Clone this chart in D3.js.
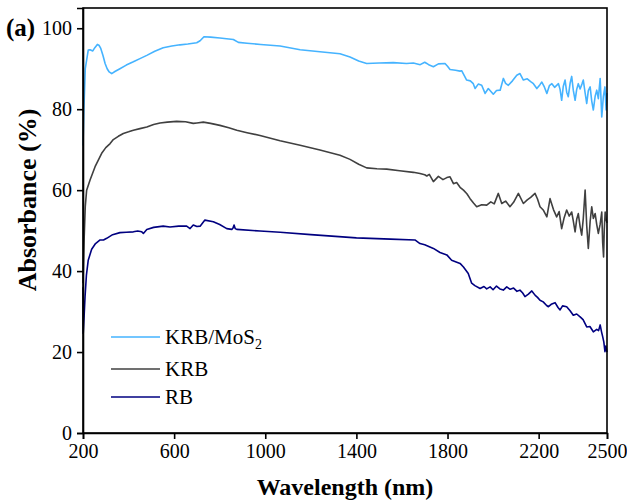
<!DOCTYPE html>
<html><head><meta charset="utf-8">
<script src="https://cdn.jsdelivr.net/npm/d3@7"></script>
<style>body{margin:0;background:#fff}svg{display:block}svg text{font-family:"Liberation Serif","Times New Roman",serif}</style>
</head><body><svg id="c" width="627" height="500"></svg>
<script>
const seriesNames = ["KRB/MoS2", "KRB", "RB"];
const seriesColors = ["#45b3ff", "#404040", "#000080"];
const xTicks = [200, 600, 1000, 1400, 1800, 2200, 2500];
const yTicks = [0, 20, 40, 60, 80, 100];

const wlKrbMos2 = [200,204,210,223,231,243,252,263,270,278,288,297,306,315,326,340,362,390,421,450,480,515,552,590,626,660,699,714,731,760,801,830,860,882,920,980,1065,1153,1240,1328,1372,1410,1445,1500,1562,1620,1650,1680,1700,1709,1720,1738,1760,1789,1800,1811,1835,1855,1862,1884,1900,1913,1921,1935,1950,1965,1979,2001,2015,2031,2045,2055,2067,2085,2104,2118,2133,2150,2165,2177,2192,2205,2214,2225,2236,2247,2258,2270,2287,2294,2301,2308,2316,2323,2330,2338,2345,2352,2360,2367,2374,2382,2390,2396,2404,2411,2418,2426,2433,2440,2448,2455,2462,2470,2477,2484,2491,2496,2500];
const valKrbMos2 = [71,80,90,94.6,94.7,94.4,95.2,96.0,95.8,95.0,93.2,91.3,90.0,89.2,88.8,89.3,90.0,90.9,91.7,92.5,93.3,94.3,95.2,95.6,95.9,96.1,96.4,96.9,97.9,97.8,97.6,97.4,97.2,96.5,96.3,96.0,95.6,94.7,94.2,93.7,92.9,91.9,91.3,91.4,91.5,91.3,91.4,91.0,91.6,91.3,90.9,90.5,91.2,91.3,90.6,89.8,89.6,89.4,89.5,87.2,87.0,86.3,85.1,86.2,85.9,83.9,85.1,83.7,84.6,84.7,87.6,86.4,85.9,87.0,88.4,88.8,87.2,87.5,86.8,86.3,85.1,86.0,86.7,85.5,83.9,85.8,86.3,85.4,86.3,84.9,82.2,85.6,87.2,84.2,83.1,86.4,88.1,84.7,82.2,84.9,86.3,85.0,86.2,87.2,84.0,81.4,84.6,85.5,82.0,79.8,83.2,84.7,82.6,87.6,78.1,83.1,85.5,79.8,84];

const wlKrb = [200,205,210,216,231,253,282,300,319,333,355,377,400,421,450,480,510,538,570,611,650,684,700,728,760,801,840,875,920,977,1065,1153,1240,1328,1372,1410,1445,1490,1533,1590,1650,1679,1700,1709,1720,1738,1760,1780,1797,1811,1826,1840,1855,1870,1885,1899,1914,1928,1950,1972,1990,2005,2023,2038,2055,2074,2090,2111,2133,2150,2165,2184,2195,2206,2220,2236,2250,2265,2279,2290,2301,2312,2323,2334,2345,2352,2360,2367,2374,2382,2389,2396,2404,2411,2418,2426,2433,2440,2448,2455,2462,2470,2477,2481,2485,2488,2492,2496,2500];
const valKrb = [37,48,56,60.0,62.5,65.8,69.1,70.5,71.5,72.5,73.3,74.0,74.4,74.8,75.2,75.6,76.2,76.6,76.8,77.0,76.9,76.5,76.6,76.8,76.5,76.0,75.4,74.8,74.2,73.5,72.2,71.1,69.9,68.6,67.6,66.4,65.5,65.3,65.2,64.8,64.4,64.1,63.8,63.5,63.9,62.1,63.4,62.6,63.1,63.3,61.6,61.9,60.7,60.0,59.1,57.9,56.8,55.9,56.4,56.3,57.1,56.6,59.2,56.7,57.3,55.9,57.0,59.2,56.7,57.6,58.2,59.2,57.8,55.9,55.1,53.4,57.9,55.2,53.4,54.7,50.5,53.2,55.1,53.6,54.6,52.4,49.7,52.8,54.2,51.0,48.9,53.1,60.0,51.2,45.6,52.3,55.9,53.0,54.2,51.5,49.3,51.6,54.6,47.1,43.5,50.2,54.6,52.8,51.9,55];

const wlRb = [200,201,205,209,215,223,238,255,275,290,304,330,362,390,421,440,458,465,480,510,552,582,620,655,670,684,700,714,735,772,800,831,853,858,863,868,875,977,1065,1200,1400,1550,1657,1679,1700,1738,1767,1797,1818,1855,1870,1891,1906,1920,1943,1960,1972,1987,2000,2015,2030,2045,2060,2075,2090,2105,2118,2130,2140,2155,2170,2185,2195,2206,2220,2235,2243,2255,2272,2285,2294,2305,2323,2338,2352,2367,2382,2395,2411,2425,2440,2455,2463,2470,2476,2481,2486,2491,2495,2500];
const valRb = [36,24.6,29,33.7,39,42.7,45.4,46.8,47.7,47.7,48.1,49.0,49.5,49.6,49.7,49.9,49.7,49.3,50.3,50.8,51.1,50.9,51.1,51.1,50.5,51.4,51.0,51.1,52.6,52.2,51.5,50.5,50.3,50.6,51.4,50.5,50.3,49.9,49.6,49.0,48.2,47.9,47.7,46.8,46.5,45.6,44.6,44.0,42.7,41.9,41.0,39.4,37.0,36.4,35.7,36.2,35.6,36.1,35.4,36.3,35.6,35.3,36.1,35.5,35.8,35.0,35.3,34.6,33.7,34.3,35.1,34.0,33.5,32.8,32.4,31.5,31.2,31.8,32.2,31.0,30.4,31.4,31.2,30.2,29.1,29.4,28.7,28.0,26.2,26.3,25.0,25.6,25.3,26.7,25.0,23.8,22.5,20.1,21.5,20];

const margin = {left: 83, right: 607, top: 8, bottom: 433};
const svg = d3.select("#c");
const x = d3.scaleLinear().domain([200, 2500]).range([margin.left, margin.right]);
const y = d3.scaleLinear().domain([0, 105]).range([margin.bottom, margin.top]);

const allSeries = [
  {wl: wlRb, v: valRb, c: seriesColors[2]},
  {wl: wlKrb, v: valKrb, c: seriesColors[1]},
  {wl: wlKrbMos2, v: valKrbMos2, c: seriesColors[0]}
];
const line = d3.line().x(d => x(d[0])).y(d => y(d[1]));
allSeries.forEach(s => {
  svg.append("path").datum(s.wl.map((w, i) => [w, s.v[i]]))
    .attr("d", line).attr("fill", "none").attr("stroke", s.c)
    .attr("stroke-width", 1.6).attr("stroke-linejoin", "round");
});

// frame
svg.append("rect").attr("x", margin.left).attr("y", margin.top)
  .attr("width", margin.right - margin.left).attr("height", margin.bottom - margin.top)
  .attr("fill", "none").attr("stroke", "#000").attr("stroke-width", 1.6);

const xAxis = svg.append("g").attr("transform", `translate(0,${margin.bottom})`)
  .call(d3.axisBottom(x).tickValues(xTicks).tickSize(6).tickPadding(5).tickFormat(d3.format("d")));
const yAxis = svg.append("g").attr("transform", `translate(${margin.left},0)`)
  .call(d3.axisLeft(y).tickValues(yTicks).tickSize(6).tickPadding(5).tickFormat(d3.format("d")));
[xAxis, yAxis].forEach(a => {
  a.select(".domain").attr("stroke-width", 1.6);
  a.selectAll(".tick line").attr("stroke-width", 1.6);
  a.selectAll("text").attr("font-size", 20).attr("fill", "#000");
});

svg.append("text").attr("x", 345).attr("y", 495).attr("text-anchor", "middle")
  .attr("font-size", 24).attr("font-weight", "bold").text("Wavelength (nm)");
svg.append("text").attr("transform", "translate(36,200) rotate(-90)").attr("text-anchor", "middle")
  .attr("font-size", 26).attr("font-weight", "bold").text("Absorbance (%)");
svg.append("text").attr("x", 6).attr("y", 36).attr("font-size", 25).attr("font-weight", "bold").text("(a)");

// legend
const legY = [337, 369, 397];
seriesNames.forEach((n, i) => {
  svg.append("line").attr("x1", 111).attr("x2", 160).attr("y1", legY[i]).attr("y2", legY[i])
    .attr("stroke", seriesColors[i]).attr("stroke-width", 1.6);
  const t = svg.append("text").attr("x", 165).attr("y", legY[i] + 7).attr("font-size", 21);
  if (n === "KRB/MoS2") {
    t.append("tspan").text("KRB/MoS");
    t.append("tspan").attr("font-size", 14).attr("dy", 5).text("2");
  } else t.text(n);
});
</script></body></html>
